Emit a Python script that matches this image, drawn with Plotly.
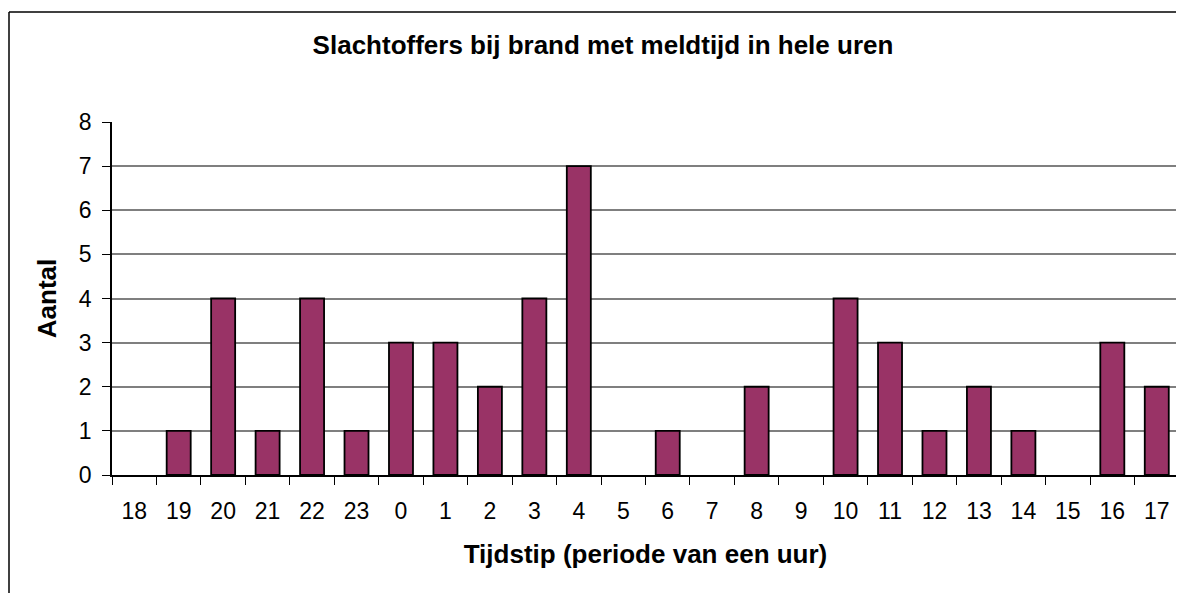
import plotly.graph_objects as go

hours = ['18', '19', '20', '21', '22', '23', '0', '1', '2', '3', '4', '5',
         '6', '7', '8', '9', '10', '11', '12', '13', '14', '15', '16', '17']
victims = [0, 1, 4, 1, 4, 1, 3, 3, 2, 4, 7, 0,
           1, 0, 2, 0, 4, 3, 1, 2, 1, 0, 3, 2]

FONT = 'Liberation Sans, Arial, sans-serif'

# no outline on empty hours (Excel draws nothing there)
edge = [0 if v == 0 else 1.8 for v in victims]

fig = go.Figure()
fig.add_trace(go.Bar(x=hours, y=victims, marker=dict(color='#993366', line=dict(color='black', width=edge))))

# page has an 8px body margin, so keep the figure 1176x585 to fill the window exactly
fig.update_layout(
    width=1176, height=585,
    margin=dict(l=104, r=5, t=114, b=118),
    paper_bgcolor='white', plot_bgcolor='white',
    bargap=0.46, showlegend=False,
    font=dict(family=FONT, size=23, color='black'),
    title=dict(text='<b>Slachtoffers bij brand met meldtijd in hele uren</b>',
               font=dict(family=FONT, size=26, color='black'),
               x=595 / 1176, xanchor='center', xref='container',
               y=1 - 37 / 585, yanchor='middle', yref='container'),
)

fig.update_xaxes(type='category', tickson='boundaries', ticks='outside', ticklen=8, tickcolor='black',
                 showline=True, linecolor='black', linewidth=1.5, showgrid=False,
                 ticklabelstandoff=15,
                 title=dict(text='<b>Tijdstip (periode van een uur)</b>', font=dict(size=26), standoff=21))
fig.update_yaxes(range=[0, 8], dtick=1, ticks='outside', ticklen=8, tickcolor='black',
                 showline=True, linecolor='black', linewidth=1.5,
                 showgrid=True, gridcolor='#7f7f7f', gridwidth=1.5, zeroline=False,
                 ticklabelstandoff=6,
                 title=dict(text='<b>Aantal</b>', font=dict(size=26), standoff=15))

# outer chart frame: only its top and left edges are inside the picture
frame_x = (1 - 104) / 1067
frame_y = (467 - 4) / 353
fig.add_shape(type='line', xref='paper', yref='paper', x0=frame_x, x1=1.3, y0=frame_y, y1=frame_y,
              line=dict(color='black', width=1.5), layer='below')
fig.add_shape(type='line', xref='paper', yref='paper', x0=frame_x, x1=frame_x, y0=-0.6, y1=frame_y,
              line=dict(color='black', width=1.5), layer='below')

fig.write_html('out.html')
